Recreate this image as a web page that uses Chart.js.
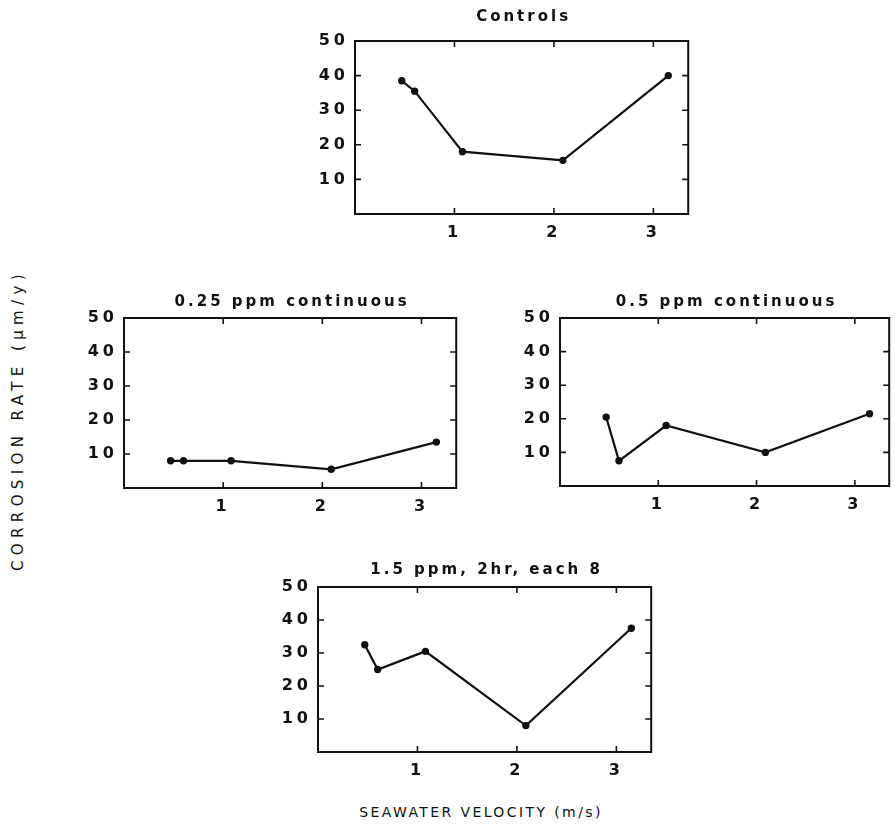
<!DOCTYPE html>
<html lang="en">
<head>
<meta charset="UTF-8">
<title>Corrosion rate vs seawater velocity</title>
<script src="https://cdn.jsdelivr.net/npm/chart.js"></script>
<style>
  html, body { margin: 0; padding: 0; background: #fff; overflow: hidden; }
  #page { position: relative; width: 895px; height: 840px; }
  #page canvas { position: absolute; }
  .axis-title {
    position: absolute;
    font-family: "DejaVu Sans", sans-serif;
    color: #111;
    white-space: nowrap;
  }
  #ytitle { left: 18px; top: 420px; font-size: 15px; transform: translate(-50%, -50%) rotate(-90deg); letter-spacing: 5.4px; }
  #xtitle { left: 481px; top: 812px; font-size: 14px; transform: translate(-50%, -50%); letter-spacing: 2.4px; }
</style>
</head>
<body>
<div id="page">
  <div id="ytitle" class="axis-title">CORROSION RATE (μm/y)</div>
  <div id="xtitle" class="axis-title">SEAWATER VELOCITY (m/s)</div>
</div>

<script>
  // velocities tested (m/s) and corrosion rates (um/y) for each treatment
  const velocity = [0.47, 0.6, 1.08, 2.09, 3.15];
  const controls = [38.5, 35.5, 18, 15.5, 40];
  const ppm025 = [8, 8, 8, 5.5, 13.5];
  const ppm05 = [20.5, 7.5, 18, 10, 21.5];
  const ppm15 = [32.5, 25, 30.5, 8, 37.5];

  const xTicks = [1, 2, 3];
  const yTicks = [10, 20, 30, 40, 50];

  const AXW = 50, TOPPAD = 32, BOTPAD = 30, RPAD = 3;

  const panels = [
    { title: 'Controls', values: controls, left: 355, top: 41, w: 335, h: 173, titleGap: 24 },
    { title: '0.25 ppm continuous', values: ppm025, left: 124, top: 318, w: 334, h: 170, titleGap: 16 },
    { title: '0.5 ppm continuous', values: ppm05, left: 560, top: 318, w: 331, h: 168, titleGap: 16 },
    { title: '1.5 ppm, 2hr, each 8', values: ppm15, left: 318, top: 587, w: 335, h: 165, titleGap: 17 }
  ];

  // box frame, inward tick marks on all four sides, and the panel title
  const framePlugin = {
    id: 'frame',
    beforeDraw(chart) {
      chart.ctx.letterSpacing = '4px';
    },
    afterDraw(chart, args, opts) {
      const ctx = chart.ctx;
      const a = chart.chartArea;
      const xs = chart.scales.x, ys = chart.scales.y;
      ctx.save();
      ctx.strokeStyle = '#111';
      ctx.lineWidth = 2;
      ctx.strokeRect(a.left, a.top, a.right - a.left, a.bottom - a.top);
      ctx.lineWidth = 1.6;
      ctx.beginPath();
      xTicks.forEach(v => {
        const px = xs.getPixelForValue(v);
        ctx.moveTo(px, a.bottom); ctx.lineTo(px, a.bottom - 6);
        ctx.moveTo(px, a.top); ctx.lineTo(px, a.top + 6);
      });
      yTicks.slice(0, 4).forEach(v => {
        const py = ys.getPixelForValue(v);
        ctx.moveTo(a.left, py); ctx.lineTo(a.left + 6, py);
        ctx.moveTo(a.right, py); ctx.lineTo(a.right - 6, py);
      });
      ctx.stroke();

      ctx.letterSpacing = '3px';
      ctx.fillStyle = '#111';
      ctx.font = 'bold 15px "DejaVu Sans", sans-serif';
      ctx.textAlign = 'center';
      ctx.textBaseline = 'middle';
      ctx.fillText(opts.text, (a.left + a.right) / 2 + 2, a.top - opts.gap);
      ctx.restore();
    }
  };

  const page = document.getElementById('page');

  panels.forEach(p => {
    const canvas = document.createElement('canvas');
    canvas.width = AXW + p.w + RPAD;
    canvas.height = TOPPAD + p.h + BOTPAD;
    canvas.style.left = (p.left - AXW) + 'px';
    canvas.style.top = (p.top - TOPPAD) + 'px';
    page.appendChild(canvas);

    new Chart(canvas, {
      type: 'line',
      data: {
        datasets: [{
          data: velocity.map((v, i) => ({ x: v, y: p.values[i] })),
          borderColor: '#111',
          backgroundColor: '#111',
          borderWidth: 2.2,
          pointRadius: 2.6,
          pointHoverRadius: 2.6,
          tension: 0
        }]
      },
      options: {
        responsive: false,
        animation: false,
        devicePixelRatio: 1,
        layout: { padding: { top: TOPPAD, right: RPAD, left: 0, bottom: 0 } },
        plugins: {
          legend: { display: false },
          tooltip: { enabled: false },
          frame: { text: p.title, gap: p.titleGap }
        },
        scales: {
          x: {
            type: 'linear',
            min: 0,
            max: 3.35,
            grid: { display: false, drawTicks: false },
            border: { display: false },
            afterBuildTicks: s => { s.ticks = xTicks.map(v => ({ value: v })); },
            afterFit: s => { s.height = BOTPAD; },
            ticks: {
              color: '#111',
              padding: 9,
              font: { family: '"DejaVu Sans", sans-serif', size: 16, weight: 'bold' }
            }
          },
          y: {
            type: 'linear',
            min: 0,
            max: 50,
            grid: { display: false, drawTicks: false },
            border: { display: false },
            afterBuildTicks: s => { s.ticks = yTicks.map(v => ({ value: v })); },
            afterFit: s => { s.width = AXW; },
            ticks: {
              color: '#111',
              padding: 6,
              font: { family: '"DejaVu Sans", sans-serif', size: 16, weight: 'bold' }
            }
          }
        }
      },
      plugins: [framePlugin]
    });
  });
</script>
</body>
</html>
